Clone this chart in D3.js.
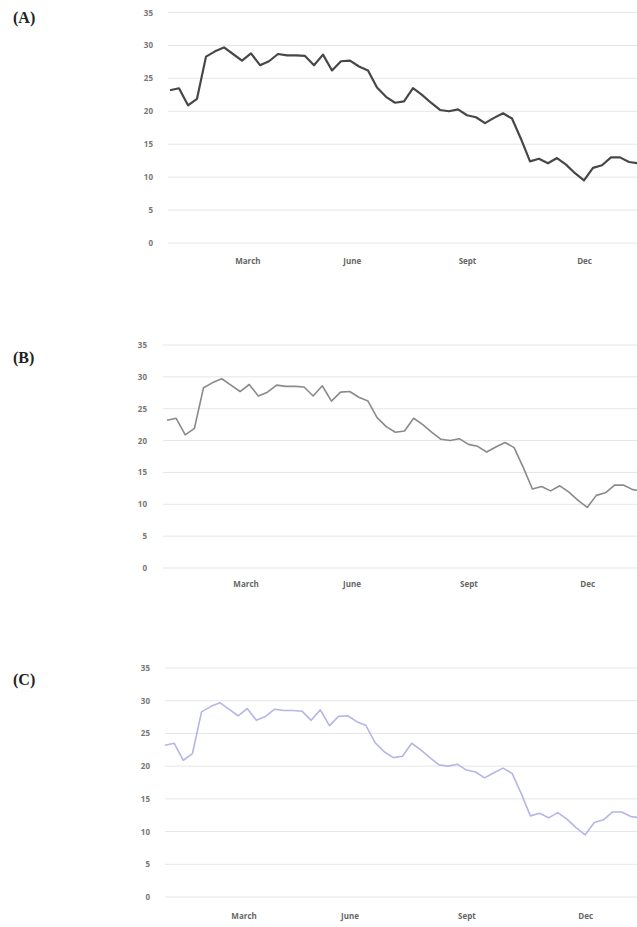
<!DOCTYPE html>
<html>
<head>
<meta charset="utf-8">
<script src="https://cdn.jsdelivr.net/npm/d3@7/dist/d3.min.js"></script>
<style>
  html, body { margin: 0; padding: 0; background: #fff; }
  svg { display: block; }
</style>
</head>
<body>
<svg id="chart" width="637" height="927"></svg>
<script>
// Weekly series across the year (week 0 .. 52)
const weeks = d3.range(53);
const weeklyValues = [
  23.2, 23.5, 20.9, 21.9, 28.3, 29.1, 29.7, 28.7, 27.7, 28.8,
  27.0, 27.6, 28.7, 28.5, 28.5, 28.4, 27.0, 28.6, 26.2, 27.6,
  27.7, 26.8, 26.2, 23.6, 22.2, 21.3, 21.5, 23.5, 22.5, 21.3,
  20.2, 20.0, 20.3, 19.4, 19.1, 18.2, 19.0, 19.7, 18.9, 15.8,
  12.4, 12.8, 12.1, 12.9, 11.9, 10.6, 9.5, 11.4, 11.8, 13.0,
  13.0, 12.3, 12.1
];
const yTicks = [0, 5, 10, 15, 20, 25, 30, 35];
const monthLabels = ["March", "June", "Sept", "Dec"];
const monthWeeks = [8.6, 20.2, 33, 46];
const panelLetters = ["(A)", "(B)", "(C)"];

// Layout and style of the three stacked panels
const panels = [
  { top: 12.5, bottom: 243, x0: 170, x1: 638, gridX: 168, labelX: 153, monthY: 266, letterY: 23, color: "#474747", width: 2.2 },
  { top: 345, bottom: 568, x0: 167, x1: 642, gridX: 163, labelX: 147, monthY: 589, letterY: 363, color: "#8a8a8a", width: 1.6 },
  { top: 668, bottom: 897, x0: 165, x1: 640, gridX: 165, labelX: 150, monthY: 921, letterY: 685, color: "#b5b5e8", width: 1.6 }
];

const svg = d3.select("#chart");

panels.forEach((p, idx) => {
  const x = d3.scaleLinear().domain([0, 52]).range([p.x0, p.x1]);
  const y = d3.scaleLinear().domain([0, 35]).range([p.bottom, p.top]);
  const g = svg.append("g");

  // horizontal gridlines
  g.selectAll("line.grid").data(yTicks).join("line")
    .attr("class", "grid")
    .attr("x1", p.gridX).attr("x2", 637)
    .attr("y1", d => y(d)).attr("y2", d => y(d))
    .attr("stroke", "#e6e6e6").attr("stroke-width", 1);

  // y tick labels
  const yAxis = d3.axisLeft(y).tickValues(yTicks).tickSize(0).tickPadding(0);
  const ya = g.append("g").attr("transform", `translate(${p.labelX},0)`).call(yAxis);
  ya.select(".domain").remove();
  ya.selectAll("text")
    .attr("font-family", "'Open Sans', 'Liberation Sans', sans-serif")
    .attr("font-size", 8).attr("font-weight", "bold").attr("fill", "#777");

  // month labels along the bottom
  const xAxis = d3.axisBottom(x).tickValues(monthWeeks)
    .tickFormat((d, i) => monthLabels[i]).tickSize(0).tickPadding(0);
  const xa = g.append("g").attr("transform", `translate(0,${p.monthY - 8})`).call(xAxis);
  xa.select(".domain").remove();
  xa.selectAll("text")
    .attr("font-family", "'Open Sans', 'Liberation Sans', sans-serif")
    .attr("font-size", 8).attr("font-weight", "bold").attr("fill", "#666");

  // the weekly line
  const line = d3.line().x((d, i) => x(weeks[i])).y(d => y(d));
  g.append("path").datum(weeklyValues)
    .attr("d", line)
    .attr("fill", "none")
    .attr("stroke", p.color)
    .attr("stroke-width", p.width)
    .attr("stroke-linejoin", "round");

  // panel letter
  svg.append("text")
    .attr("x", 13).attr("y", p.letterY)
    .attr("font-family", "'Liberation Serif', 'DejaVu Serif', serif")
    .attr("font-size", 16).attr("font-weight", "bold").attr("fill", "#222")
    .text(panelLetters[idx]);
});
</script>
</body>
</html>
